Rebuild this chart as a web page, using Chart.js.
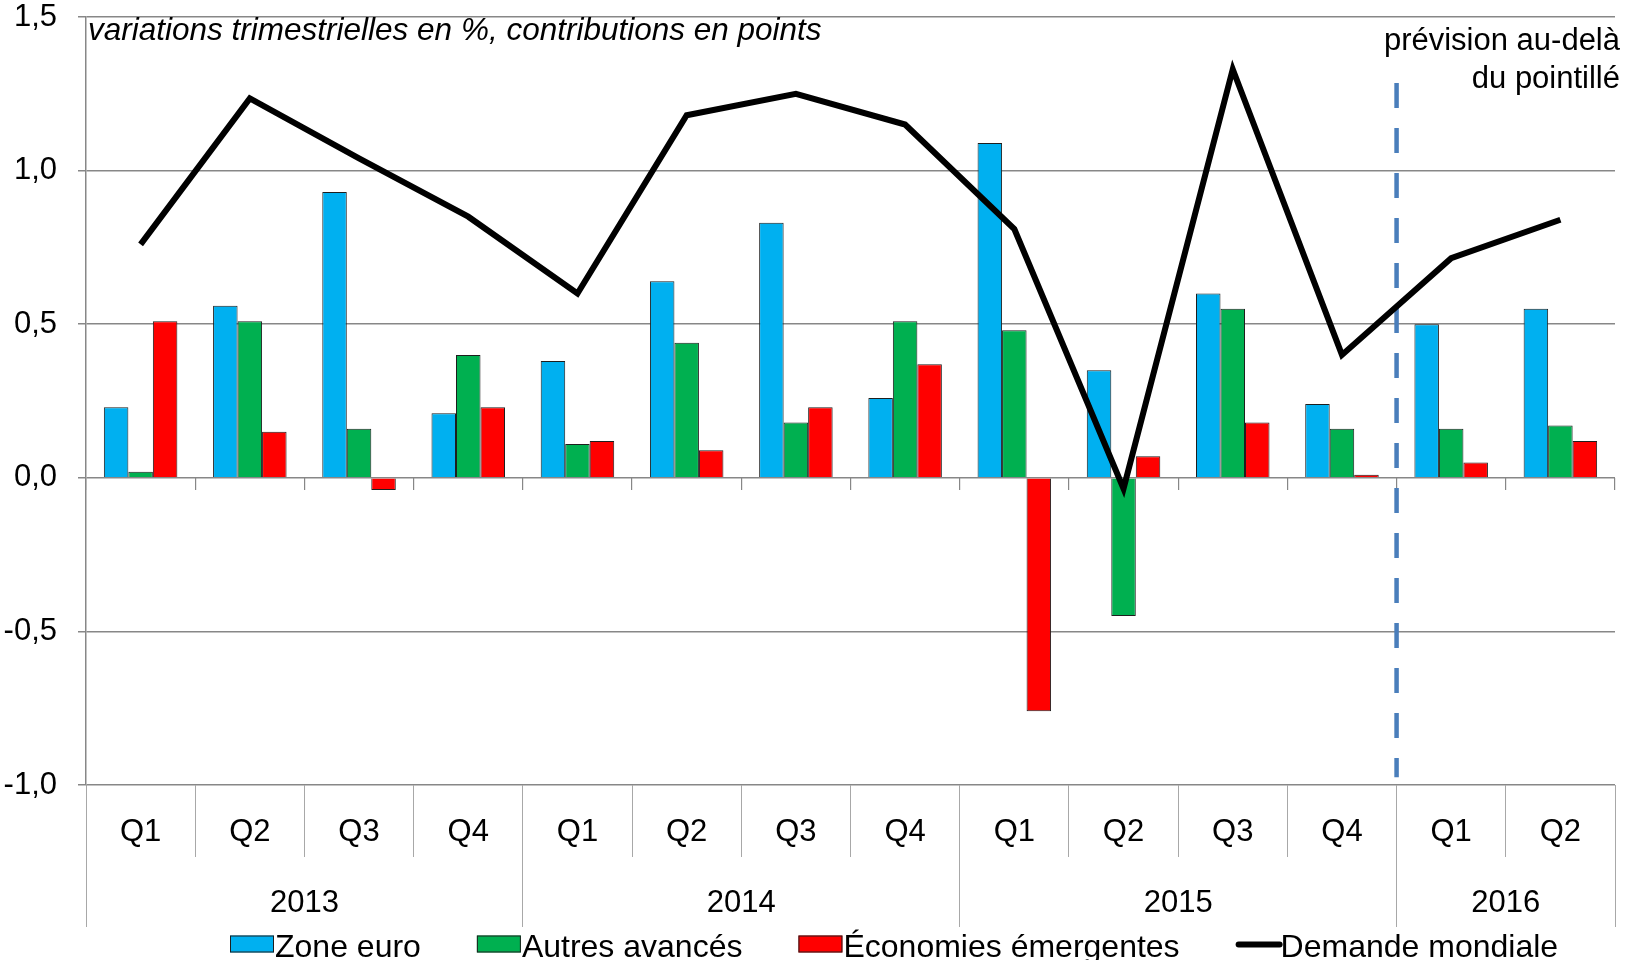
<!DOCTYPE html>
<html>
<head>
<meta charset="utf-8">
<script src="https://cdn.jsdelivr.net/npm/chart.js@4.4.1/dist/chart.umd.min.js"></script>
<style>
  html, body { margin: 0; padding: 0; background: #ffffff; }
  #wrap { position: relative; width: 1625px; height: 960px; }
</style>
</head>
<body>
<div id="wrap"><canvas id="c" width="1625" height="960"></canvas></div>
<script>
// ---------- Data ----------
const quarters = ['Q1','Q2','Q3','Q4','Q1','Q2','Q3','Q4','Q1','Q2','Q3','Q4','Q1','Q2'];
const years = ['2013','2014','2015','2016'];
const quartersPerYear = [4, 4, 4, 2];
const zoneEuro =            [0.23, 0.56, 0.93, 0.21, 0.38, 0.64, 0.83, 0.26, 1.09, 0.35, 0.60, 0.24, 0.50, 0.55];
const autresAvances =       [0.02, 0.51, 0.16, 0.40, 0.11, 0.44, 0.18, 0.51, 0.48, -0.45, 0.55, 0.16, 0.16, 0.17];
const economiesEmergentes = [0.51, 0.15, -0.04, 0.23, 0.12, 0.09, 0.23, 0.37, -0.76, 0.07, 0.18, 0.01, 0.05, 0.12];
const demandeMondiale =     [0.76, 1.235, 1.04, 0.85, 0.60, 1.18, 1.25, 1.15, 0.81, -0.035, 1.33, 0.40, 0.715, 0.84];
const forecastStart = 12;                  // first forecast quarter (2016 Q1), in quarter units
const forecastLineRange = [1.285, -0.975]; // vertical extent of the dashed line (y values)
const yMin = -1.0, yMax = 1.5, yStep = 0.5;
const subtitleText = 'variations trimestrielles en %, contributions en points';
const noteLines = ['prévision au-delà', 'du pointillé'];
const seriesLabels = ['Zone euro', 'Autres avancés', 'Économies émergentes', 'Demande mondiale'];

// derived year boundaries / centres (in quarter units)
const yearBounds = [0];
quartersPerYear.forEach(n => yearBounds.push(yearBounds[yearBounds.length - 1] + n));
const yearCenters = years.map((_, i) => (yearBounds[i] + yearBounds[i + 1]) / 2);
const yearTickValues = Array.from(new Set([...yearBounds, ...yearCenters])).sort((a, b) => a - b);

const FONT = '"Liberation Sans", Arial, sans-serif';
const GRID = '#878787';
const SEP = '#a8a8a8';

// ---------- forecast dashed line (positioned through the chart scales) ----------
const forecastPlugin = {
  id: 'forecastLine',
  beforeDatasetsDraw(chart) {
    const ctx = chart.ctx;
    const xs = chart.scales.x2, ys = chart.scales.y;
    const px = xs.getPixelForValue(forecastStart);
    ctx.save();
    ctx.strokeStyle = '#4a7ebb';
    ctx.lineWidth = 4.5;
    ctx.setLineDash([25, 20]);
    ctx.beginPath();
    ctx.moveTo(px, ys.getPixelForValue(forecastLineRange[0]));
    ctx.lineTo(px, ys.getPixelForValue(forecastLineRange[1]));
    ctx.stroke();
    ctx.restore();
  }
};

// ---------- overlay texts + legend ----------
const overlayPlugin = {
  id: 'overlayTexts',
  afterDraw(chart) {
    const ctx = chart.ctx;
    const area = chart.chartArea;
    ctx.save();
    ctx.fillStyle = '#000';
    ctx.textBaseline = 'alphabetic';
    ctx.textAlign = 'left';
    ctx.font = 'italic 31.5px ' + FONT;
    ctx.fillText(subtitleText, area.left + 2, area.top + 23);
    ctx.font = '31px ' + FONT;
    ctx.textAlign = 'right';
    ctx.fillText(noteLines[0], chart.width - 5, area.top + 33);
    ctx.fillText(noteLines[1], chart.width - 5, area.top + 71);

    // legend
    ctx.textAlign = 'left';
    ctx.font = '32px ' + FONT;
    const cy = chart.height - 16.5;
    let x = 230;
    chart.data.datasets.forEach(ds => {
      if (ds.type === 'line') {
        ctx.strokeStyle = ds.borderColor;
        ctx.lineWidth = 6;
        ctx.lineCap = 'round';
        ctx.beginPath();
        ctx.moveTo(x + 3, cy + 1);
        ctx.lineTo(x + 44, cy + 1);
        ctx.stroke();
      } else {
        ctx.fillStyle = ds.backgroundColor;
        ctx.fillRect(x, cy - 8, 44, 17);
        ctx.strokeStyle = ds.borderColor;
        ctx.lineWidth = 1;
        ctx.strokeRect(x + 0.5, cy - 7.5, 43, 16);
      }
      ctx.fillStyle = '#000';
      ctx.fillText(ds.label, x + 45, cy + 13.5);
      x += 45 + ctx.measureText(ds.label).width + 56;
    });
    ctx.restore();
  }
};

new Chart(document.getElementById('c'), {
  type: 'bar',
  data: {
    labels: quarters,
    datasets: [
      { label: seriesLabels[0], data: zoneEuro, backgroundColor: '#00b0f0', borderColor: '#1e1e1e', borderWidth: 1, order: 2, xAxisID: 'x', yAxisID: 'y' },
      { label: seriesLabels[1], data: autresAvances, backgroundColor: '#00b050', borderColor: '#1e1e1e', borderWidth: 1, order: 2, xAxisID: 'x', yAxisID: 'y' },
      { label: seriesLabels[2], data: economiesEmergentes, backgroundColor: '#ff0000', borderColor: '#1e1e1e', borderWidth: 1, order: 2, xAxisID: 'x', yAxisID: 'y' },
      { type: 'line', label: seriesLabels[3], data: demandeMondiale, borderColor: '#000000', backgroundColor: '#000000',
        borderWidth: 6, pointRadius: 0, tension: 0, order: 0, xAxisID: 'x', yAxisID: 'y' }
    ]
  },
  options: {
    responsive: false,
    animation: false,
    layout: { padding: { left: 0, right: 10, top: 17, bottom: 33 } },
    plugins: { legend: { display: false }, tooltip: { enabled: false } },
    datasets: { bar: { categoryPercentage: 0.673, barPercentage: 1.0 } },
    scales: {
      y: {
        type: 'linear', position: 'left', min: yMin, max: yMax,
        ticks: { stepSize: yStep, color: '#000', padding: 21, font: { family: FONT, size: 31, lineHeight: 1 },
                 callback: v => Number(v).toFixed(1).replace('.', ',') },
        grid: { color: GRID, lineWidth: 1.5, tickLength: 8 },
        border: { color: GRID, width: 1.5 },
        afterFit: s => { s.width = 86; s.paddingTop = 0; s.paddingBottom = 0; }
      },
      x: {
        type: 'category', position: 'bottom', offset: true,
        grid: { offset: true, drawOnChartArea: false, tickLength: 72, color: SEP, lineWidth: 1 },
        border: { display: false },
        ticks: { color: '#000', padding: -40.5, maxRotation: 0, autoSkip: false, font: { family: FONT, size: 31, lineHeight: 1 } },
        afterFit: s => { s.height = 72; }
      },
      x2: {
        type: 'linear', position: 'bottom', min: 0, max: yearBounds[yearBounds.length - 1], offset: false,
        afterBuildTicks: s => { s.ticks = yearTickValues.map(v => ({ value: v })); },
        grid: { offset: false, drawOnChartArea: false, tickLength: 70, lineWidth: 1,
                color: c => (c.tick && yearBounds.includes(c.tick.value)) ? SEP : 'rgba(0,0,0,0)' },
        border: { display: false },
        ticks: { color: '#000', padding: -39.5, maxRotation: 0, autoSkip: false, font: { family: FONT, size: 31, lineHeight: 1 },
                 callback: v => { const i = yearCenters.indexOf(v); return i >= 0 ? years[i] : ''; } },
        afterFit: s => { s.height = 70; }
      },
      x3: {
        type: 'category', position: { y: 0 }, offset: true,
        grid: { offset: true, drawOnChartArea: false, tickLength: 12, color: GRID, lineWidth: 1.2 },
        border: { display: false },
        ticks: { display: false }
      }
    }
  },
  plugins: [forecastPlugin, overlayPlugin]
});
</script>
</body>
</html>
